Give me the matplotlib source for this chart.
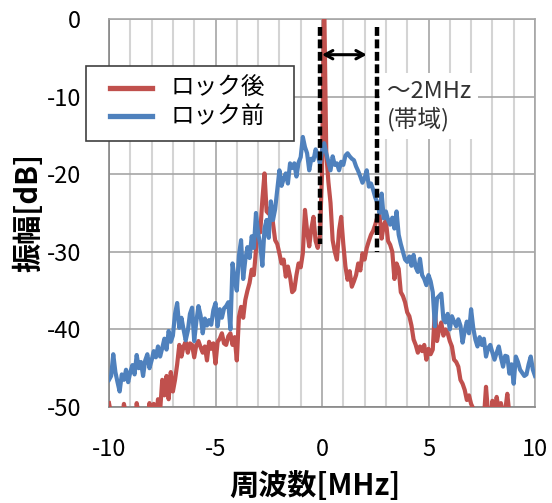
import numpy as np
import matplotlib
matplotlib.use("Agg")
import matplotlib.pyplot as plt
from matplotlib.ticker import MultipleLocator
from matplotlib.patches import Rectangle
from matplotlib.lines import Line2D

plt.rcParams['font.family'] = ['Noto Sans CJK JP', 'DejaVu Sans']

# frequency axis (MHz), 0.1 MHz step
freq = np.round(np.arange(-10.0, 10.0001, 0.1), 1)

# ロック後 (after lock) amplitude [dB]
after_lock = [
    -49.5, -51, -52, -53, -52, -51, -52, -49.6, -51, -53,
    -52, -51, -53, -49.5, -51, -53, -52, -51, -53, -49.5,
    -51, -49.6, -52, -49.0, -50.5, -46.5, -48.5, -46.0, -49.0, -45.5,
    -48.0, -46.5, -44.5, -42.0, -43.5, -42.2, -41.6, -43.0, -41.8, -42.0,
    -43.6, -42.0, -41.5, -42.3, -43.0, -42.2, -44.0, -41.6, -42.5, -41.8,
    -44.4, -41.6, -41.2, -40.5, -41.8, -42.0, -40.9, -40.5, -42.0, -41.0,
    -44.0, -38.4, -37.1, -38.5, -36.2, -35.0, -34.0, -32.3, -33.0, -29.8,
    -26.3, -27.5, -23.3, -19.9, -24.8, -25.1, -24.2, -26.3, -28.5, -29.0,
    -30.2, -31.5, -31.0, -33.2, -31.9, -33.2, -35.2, -34.9, -33.0, -31.5,
    -32.0, -30.2, -24.6, -27.3, -29.3, -27.0, -25.5, -28.6, -29.5, -28.0,
    -20.0, 3.0, -17.3, -21.0, -23.7, -28.5, -30.0, -31.0, -27.3, -25.5,
    -29.0, -31.9, -33.6, -32.5, -34.5, -33.8, -33.0, -31.5, -32.4, -30.2,
    -31.0, -29.5, -28.6, -27.8, -27.3, -26.5, -25.5, -25.2, -28.3, -26.5,
    -26.0, -28.6, -29.1, -30.0, -33.5, -31.5, -32.2, -35.2, -35.7, -36.5,
    -37.8, -38.3, -39.5, -41.3, -42.0, -43.0, -42.2, -42.8, -42.0, -43.9,
    -42.5, -43.2, -42.6, -37.4, -41.5, -40.0, -39.1, -40.8, -40.0, -40.5,
    -41.5, -42.2, -43.9, -44.2, -44.8, -46.5, -47.0, -47.8, -49.1, -48.5,
    -49.6, -50.2, -51, -52, -51, -52, -51.5, -47.4, -51, -52,
    -49.2, -51, -48.7, -50.5, -49.5, -51, -50.5, -48.3, -51, -52,
    -52, -53, -52, -51, -53, -52, -53, -52, -51, -52,
    -53,
]

# ロック前 (before lock) amplitude [dB]
before_lock = [
    -46.5, -46.0, -43.2, -45.5, -46.8, -48.0, -45.8, -46.5, -45.2, -46.8,
    -45.5, -44.6, -45.8, -43.3, -45.0, -44.2, -46.0, -44.0, -43.2, -45.0,
    -44.0, -42.8, -43.6, -42.2, -43.5, -42.4, -41.2, -42.6, -40.2, -41.6,
    -40.8, -38.0, -36.6, -39.8, -38.5, -40.0, -41.4, -40.2, -38.0, -37.2,
    -41.5, -39.0, -37.0, -38.2, -40.5, -38.6, -39.5, -38.8, -39.4, -37.5,
    -36.6, -39.6, -37.4, -38.5, -37.3, -37.0, -36.5, -40.0, -31.5, -33.5,
    -35.0, -30.5, -28.5, -33.5, -31.0, -29.4, -30.8, -28.0, -29.5, -25.0,
    -27.6, -29.0, -31.8, -27.0, -25.9, -28.2, -23.5, -25.9, -24.5, -22.0,
    -19.5, -21.5, -20.6, -19.9, -21.2, -18.6, -19.2, -18.6, -20.3, -18.5,
    -17.8, -15.2, -16.5, -17.3, -19.5, -18.0, -18.2, -16.8, -17.5, -18.6,
    -17.0, -16.0, -17.3, -18.4, -19.5, -17.7, -18.8, -18.6, -19.5, -18.4,
    -18.8, -17.6, -17.3, -17.7, -18.0, -18.2, -19.0, -19.6, -20.3, -21.1,
    -20.5, -19.5, -21.6, -21.2, -22.0, -23.0, -23.7, -25.0, -22.5, -25.7,
    -24.8, -25.9, -26.5, -25.6, -27.0, -24.8, -27.8, -29.0, -30.0, -31.0,
    -31.3, -30.6, -31.8, -30.4, -32.0, -32.6, -30.9, -33.0, -33.5, -34.3,
    -33.0, -33.8, -35.2, -39.6, -36.0, -35.7, -35.4, -38.7, -39.1, -38.0,
    -40.0, -38.3, -39.0, -39.6, -38.7, -39.5, -41.7, -40.2, -39.0, -40.5,
    -37.4, -39.8, -41.3, -42.2, -41.0, -42.0, -41.2, -43.5, -42.4, -42.0,
    -43.0, -43.9, -43.0, -42.2, -43.6, -44.8, -43.4, -43.5, -45.7, -44.5,
    -47.0, -43.5, -44.2, -45.2, -45.6, -46.0, -45.8, -44.5, -43.5, -45.2,
    -46.0,
]

series_labels = ['ロック後', 'ロック前']
xticks = [-10, -5, 0, 5, 10]
yticks = [0, -10, -20, -30, -40, -50]

# annotation values
band_left, band_right = -0.1, 2.6
arrow_x0, arrow_x1, arrow_y = 0.0, 2.1, -4.6
annot_text = '～2MHz\n(帯域)'

RED = '#C0504D'
BLUE = '#4F81BD'
colors = [RED, BLUE]

W, H = 552, 503
fig = plt.figure(figsize=(W/100, H/100), dpi=100)
ax = fig.add_axes([109/W, 1 - 407/H, (535 - 109)/W, (407 - 19)/H])

for vals, c, lab in zip([after_lock, before_lock], colors, series_labels):
    ax.plot(freq, vals, color=c, lw=3.0, label=lab, zorder=3,
            solid_joinstyle='round')

ax.set_xlim(-10, 10)
ax.set_ylim(-50, 0)
ax.set_xticks(xticks)
ax.set_xticklabels([str(t) for t in xticks])
ax.set_yticks(yticks)
ax.set_yticklabels([str(t) for t in yticks])
ax.xaxis.set_minor_locator(MultipleLocator(1))
ax.tick_params(axis='both', which='both', length=0, labelsize=17, colors='black')
ax.tick_params(axis='x', pad=22)
ax.tick_params(axis='y', pad=20)

ax.grid(True, which='major', color='#A6A6A6', lw=1.2, zorder=0)
ax.grid(True, which='minor', axis='x', color='#D4D4D4', lw=1.5, zorder=0)
ax.set_axisbelow(True)
for s in ax.spines.values():
    s.set_color('#A6A6A6')
    s.set_linewidth(1.2)
ax.spines['left'].set_color('#868686')
ax.spines['bottom'].set_color('#868686')

fig.text(315/W, 1 - 486/H, '周波数[MHz]', fontsize=21, fontweight='bold',
         ha='center', va='center')
fig.text(28/W, 1 - 213/H, '振幅[dB]', fontsize=21, fontweight='bold',
         ha='center', va='center', rotation=90)

# dashed band lines
ax.plot([band_left, band_left], [-1.0, -29.0], color='black', lw=3.2,
        dashes=(2.0, 0.8), zorder=5)
ax.plot([band_right, band_right], [-1.0, -30.0], color='black', lw=3.2,
        dashes=(2.0, 0.8), zorder=5)
ax.annotate('', xy=(arrow_x1, arrow_y), xytext=(arrow_x0, arrow_y),
            arrowprops=dict(arrowstyle='<->,head_length=0.55,head_width=0.3',
                            color='black', lw=2.2, shrinkA=0, shrinkB=0), zorder=6)

ax.text(3.05, -11.2, annot_text, fontsize=17, color='#333333', ha='left', va='center',
        linespacing=1.2, zorder=4,
        bbox=dict(facecolor='white', edgecolor='none', pad=5))

# legend box (drawn in figure pixels)
fig.patches.append(Rectangle((86/W, 1 - 141/H), (294 - 86)/W, (141 - 66)/H,
                             transform=fig.transFigure, facecolor='white',
                             edgecolor='#404040', lw=1.2, zorder=10))
for i, (c, lab) in enumerate(zip(colors, series_labels)):
    yy = 1 - (88 + 28 * i)/H
    fig.lines.append(Line2D([110/W, 152/W], [yy, yy], transform=fig.transFigure,
                            color=c, lw=3.8, zorder=11))
    fig.text(171/W, yy, lab, fontsize=17, ha='left', va='center', zorder=12)

fig.savefig('out.png', dpi=100)
